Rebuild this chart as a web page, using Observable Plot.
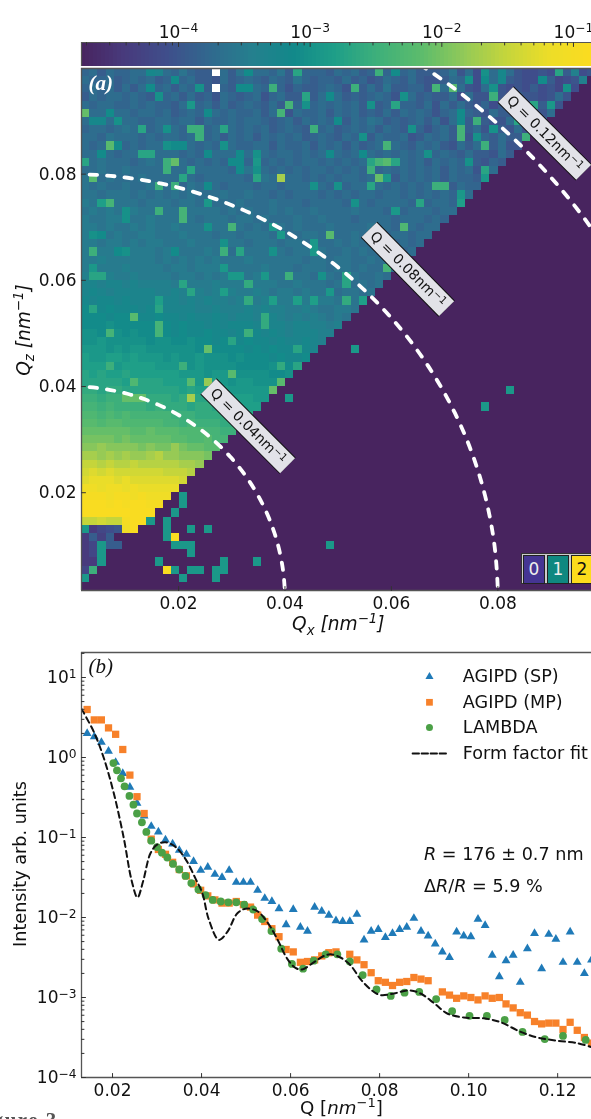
<!DOCTYPE html>
<html><head><meta charset="utf-8">
<script src="https://cdn.jsdelivr.net/npm/d3@7"></script>
<script src="https://cdn.jsdelivr.net/npm/@observablehq/plot@0.6"></script>
<style>
html,body{margin:0;padding:0;background:#fff}
#page{position:relative;width:591px;height:1119px;overflow:hidden;font-family:"DejaVu Sans",sans-serif;color:#111;filter:blur(0.45px)}
#page svg{position:absolute;left:0;background:transparent}
.lab{position:absolute;font-size:17.6px;white-space:nowrap;line-height:1}
.lab sub,.lab sup{font-size:72%;line-height:0}
#states{position:absolute;left:521px;top:553px;width:80px;height:31px;box-sizing:border-box;border:1px solid #333;background:#ccc;display:flex;gap:2px;padding:1px}
#states div{width:20px;height:27px;border:1px solid #222;text-align:center;font-size:17px;line-height:27px}
</style></head><body><div id="page"></div>
<script>
// ---------- panel (a): colour bar ----------
const barTicks = [1e-4, 1e-3, 1e-2, 1e-1];
const barMinor = [2e-5,3e-5,4e-5,5e-5,6e-5,7e-5,8e-5,9e-5,2e-4,3e-4,4e-4,5e-4,6e-4,7e-4,8e-4,9e-4,2e-3,3e-3,4e-3,5e-3,6e-3,7e-3,8e-3,9e-3,2e-2,3e-2,4e-2,5e-2,6e-2,7e-2,8e-2,9e-2];
const colorStops = ["#48245f","#483a7c","#3f4e8b","#31688e","#257f8e","#12898a","#1f9f88","#3fb07a","#5cbc6c","#92c958","#c4d53c","#ecdd28","#fbdc20"];

// ---------- panel (a): detector image, one string per row from the top, each character an intensity level ----------
const levelChars = "0123456789abcdefghijklmnopqrstuvwxyzABC";
const imageRows = [
"9a8a99aa89 a9b9889a8b 9aa9b88999 8a9a89a9b9 a8889b7a6a a8a7667678 667",
"a99a89a9a8 9b9a887a89 a98a98b989 98a8978a98 a8778a9a67 a787666856 766",
"9a9a8a8a99 a8a9988989 8a9a979889 a9798a8b88 9978a8a76a 8767686756 67",
"8a9aa9a989 9a8a897a98 9a79a88a8a 8a8989a978 a8988a6a77 a7687767a7 6",
"a9aa99a9a9 98a99a8a89 a98a8b989a 9a9a8a8979 98a7a8a879 6866768976",
"aaabaa9aa9 a89a98a9a9 9a8a97a99a 8a9a898a8a 9a979a8987 a886787a8",
"abbaaaa99a a9aa8a99a9 aa989a8a9a 9b8a9ba898 9a8a7a98a8 77a786868",
"9aa9abaa9a 9a99a9a8a9 a9a89a98a9 a89a9a8a98 a979a8a8a7 987a7867",
"aa9baaa9a9 aa9a99a8a9 a8a9a9a89a 98a9a8a99a 78a9a8a789 8a8878a",
"a9aaa9a9aa aa9a9a9aa9 9aa8a99a8a 9a8a89a9a9 8a9a87a8a9 8a777a",
"aaaa9aaa9a aa9a9aaaa9 a9a9aa9a9a 8a9aba9a9a 9a89a98a88 7a8a8",
"aabaaa9aba aaa9a9a9ab 9a9a9a9aa9 a9a9a9aa9a 9a8a9a9a87 98a8",
"aabaabaaaa baa9aaaa9a baa9a9a9aa 9a9a9a9a9a 9a9a8a9a78 a98",
"baabaaabaa aaba9aaaaa 9aba9aa9a9 a9aa9a9a8a 9a9a8a9989 9a",
"babaabaaba aa9baaa9aa a9aa9aaa9a 9a9aa9a9a9 a9a9a8a998 a",
"bbabbbabab ababaaabaa baa9a9aaa9 a9a9aa9aa9 a9a9a98a89",
"cbbcbbbabb babbabaaab aaabaaa9aa aa9aa9aaaa 9a9aa9a9a",
"bcbcbbcbbb bbabbbbaba baababaaba aaabaaa9a9 aaa9aa9a",
"cbbccbbbcb bbbbabbbab babaaabaab aaa9aaaa9a aa9a9aa",
"ccbcbbcbcb bcbbbabbbb ababbabaaa baaaabaa9a a9aa9a",
"cccbcbbccb bbcbbbabba bbbabaabba baabaaa9aa 9aa9a",
"ccbccbcbcc bbbcbbbbbb abbbabbaba ababaaaa9a 9aaa",
"cccccbcccb ccbbbcbbab bbbbbabbab aababaaba9 aa9",
"ccdccccccb cbcbcbcbbb cbbbbbbabb abbaababaa 9a",
"cdcccdcccc bccbcccbbb bbcbbbabbb abbabaabaa a",
"ddcdccdccc cbccbcbcbb bcbbbbbbab babbaabab",
"eedeededdd dcdcccdccc bcccbbcbbb abbababa",
"efedeeeeed dedddcdddc cdcbccbcbb babbabb",
"feffefeeee eedededdcd dcdcccbcbc cbbbcb",
"gffgfffeff eeeeddeddd ededdccdcb bccbb",
"gggfggfffg ffefeefede edeedcdcdc bcbc",
"ggghgggggf gfgffefeff feeeedeedd cdc",
"hhghhghggg gfgffgffef ffefedeeed dd",
"hhihhhhhgh hgghggfgff gffefeefed d",
"iiihihiihh hhhhghgggg fgfgffefee",
"jiijjijiii hihhihhhgh gggfgffgf",
"jjjjijjjji iiihihhhhg ggghggfg",
"kjkjjkjjjj jjiiihiihh hhhgghg",
"kkkkkjkkkk jjjjiijihi ihhhgh",
"llkllkkkkk kkjkjjjjii iiihh",
"mmlmmlllll lklkkkjkjj jiii",
"nnmnmmmmlm lllkllkkkj jji",
"oonononnnn nmmmllllkk kk",
"ppoppooooo nnmnmmmllk k",
"qqqqqqppqp ppooonnmml",
"rrrrqrqqqq qppoopnnm",
"sstssssrsr rrrqqppo",
"uutututtut ttsssrq",
"wwvwvvwvvv vvuutt",
"xyxyxxxxxx wwwvv",
"yzzzyzyyyy yyxx",
"AAzAAzAzzz zzy",
"BBBABBABAA Az",
"CCCBCBCCBB B",
"CCCCCCCCCC C",
"wwxwwBCCC",
"i3567AC",
"3848",
"35i88",
"35i",
"33i",
"5m",
"i"
];
// isolated pixels that stand out of the row background: row, column, level ("_" is a dead pixel, drawn white)
const hotCells = [
[0,16,"_"],[2,16,"_"],[0,8,"f"],[0,9,"e"],[1,11,"g"],[0,26,"k"],[0,20,"g"],
[2,8,"g"],[2,14,"h"],[2,19,"g"],[2,20,"g"],[2,23,"m"],[3,9,"h"],[3,27,"k"],[4,27,"h"],[4,13,"i"],[4,25,"n"],
[5,0,"q"],[5,3,"g"],[5,15,"g"],[5,24,"n"],[6,4,"h"],[6,1,"f"],[6,2,"f"],
[7,7,"k"],[7,13,"m"],[7,14,"m"],[7,17,"k"],[7,28,"m"],[7,10,"h"],[8,14,"m"],
[9,3,"p"],[9,4,"g"],[9,10,"h"],[9,11,"g"],[9,12,"g"],[9,17,"h"],[10,7,"k"],[10,8,"k"],[10,2,"g"],[10,15,"g"],
[11,0,"k"],[11,10,"m"],[11,11,"q"],[10,21,"h"],[11,21,"i"],[12,21,"h"],[10,19,"g"],[11,19,"g"],[12,19,"g"],[11,18,"g"],
[13,1,"p"],[12,10,"m"],[12,13,"k"],[13,21,"k"],[13,24,"u"],[13,12,"k"],[14,9,"m"],[14,11,"m"],[14,28,"h"],[14,15,"g"],
[0,36,"m"],[0,38,"g"],[0,49,"h"],[0,51,"f"],[1,51,"f"],[0,58,"k"],[0,60,"d"],
[1,47,"h"],[1,49,"g"],[1,56,"g"],[1,61,"d"],[2,33,"m"],[2,43,"n"],[2,45,"p"],[2,50,"h"],[2,59,"h"],
[3,39,"h"],[3,50,"m"],[3,30,"g"],[4,35,"h"],[4,38,"k"],[4,55,"k"],[4,57,"i"],[5,46,"g"],
[6,48,"m"],[6,46,"g"],[6,31,"g"],[6,53,"k"],[7,46,"n"],[8,46,"n"],[7,50,"h"],[7,40,"h"],
[8,34,"h"],[8,48,"h"],[8,54,"m"],[9,37,"n"],[9,49,"m"],[10,42,"h"],[10,34,"g"],[10,30,"g"],
[11,35,"k"],[11,36,"n"],[11,37,"p"],[11,38,"k"],[11,47,"h"],[12,35,"m"],[12,49,"k"],
[13,36,"q"],[13,37,"i"],[13,49,"i"],[14,35,"k"],[14,43,"m"],[14,44,"m"],[14,31,"h"],[15,46,"i"],
[16,3,"n"],[16,2,"j"],[16,15,"i"],[16,41,"k"],[16,46,"j"],[16,33,"h"],
[17,9,"m"],[17,12,"n"],[18,12,"n"],[17,5,"h"],[18,5,"h"],[17,38,"i"],
[19,18,"n"],[19,23,"i"],[19,15,"h"],[19,39,"o"],[20,30,"p"],[20,1,"h"],[20,2,"g"],[20,24,"i"],
[21,28,"i"],[21,17,"h"],[22,28,"i"],[22,1,"m"],[22,17,"m"],[22,19,"k"],[22,5,"h"],[22,4,"g"],[22,11,"g"],[22,23,"h"],
[24,1,"i"],[24,17,"i"],[24,37,"n"],[25,1,"k"],[25,2,"k"],[25,18,"i"],[25,19,"i"],[25,22,"i"],[25,25,"m"],[25,29,"h"],[25,32,"k"],[26,32,"k"],
[26,12,"k"],[26,20,"l"],[27,13,"k"],[27,17,"j"],[27,30,"i"],[28,9,"j"],[28,20,"l"],[28,23,"j"],[28,26,"j"],[28,28,"j"],[28,32,"l"],[28,34,"j"],
[29,9,"k"],[29,1,"k"],[30,6,"p"],[30,22,"l"],[31,22,"l"],[31,9,"n"],[32,9,"n"],[32,3,"n"],[32,20,"m"],[33,18,"k"],
[34,15,"q"],[34,26,"k"],[36,12,"m"],[36,3,"m"],[36,24,"l"],[36,26,"k"],
[37,18,"p"],[38,13,"p"],[38,15,"t"],[38,24,"p"],[38,6,"o"],[39,23,"q"],[40,5,"q"],[40,6,"q"],[40,7,"q"],[40,13,"u"],
[47,9,"v"],[46,11,"t"],
[40,25,"i"],[34,33,"i"],[41,49,"i"],[39,52,"i"],[58,30,"i"],
[52,12,"i"],[53,12,"i"],[54,11,"i"],[55,8,"i"],[55,10,"i"],[56,10,"i"],[56,13,"i"],[56,15,"i"],[57,10,"i"],[57,11,"C"],
[58,11,"i"],[58,12,"i"],[58,13,"i"],[59,13,"i"],[60,9,"i"],[60,17,"i"],[60,21,"i"],[61,10,"C"],[61,11,"i"],
[61,13,"i"],[61,14,"i"],[61,16,"i"],[61,17,"i"],[62,12,"i"],[62,16,"i"]
];
const imgQx = [0.00177, 0.1000];   // outer edges of the 64 detector columns
const imgQz = [0.00158, 0.0999];   // outer edges of the 64 detector rows
const imgN = 64;

// ---------- panel (a): constant-Q guides ----------
const guideQ = [0.04, 0.08, 0.12];
const guideDeg = [0,4,8,12,16,20,24,28,32,36,40,44,48,52,56,60,64,68,72,76,80,84,88,90];
const guideLabels = ["Q = 0.04nm^−1","Q = 0.08nm^−1","Q = 0.12nm^−1"];
const labelBoxStartQx = [0.02564, 0.05581, 0.08147];
const labelBoxStartQz = [0.04002, 0.06953, 0.09500];
const labelBoxEndQx = [0.04049, 0.07038, 0.09613];
const labelBoxEndQz = [0.02508, 0.05468, 0.08034];
const stateNames = ["0","1","2"];
const stateColors = ["#453593","#0f8880","#fcdc1c"];
const stateText = ["#eee","#eee","#111"];

// ---------- panel (b): scattering curves, log10 of intensity ----------
const qGrid = [.0143,.0159,.0175,.0191,.0207,.0223,.0239,.0255,.0271,.0287,.0303,.0319,.0335,.0350,.0366,.0382,.0398,.0414,.0430,.0446,.0462,.0478,.0494,.0510,.0526,.0542,.0558,.0574,.0590,.0606,.0622,.0638,.0654,.0670,.0686,.0702,.0717,.0733,.0749,.0765,.0781,.0797,.0813,.0829,.0845,.0861,.0877,.0893,.0909,.0925,.0941,.0957,.0973,.0989,.1005,.1021,.1037,.1053,.1069,.1084,.1100,.1116,.1132,.1148,.1164,.1180,.1196,.1212,.1228,.1244,.1260,.1276];
const agipdSP = [.30,.26,.19,.08,-.06,-.20,-.37,-.57,-.73,-.86,-.93,-1.03,-1.08,-1.16,-1.21,-1.30,-1.41,-1.37,-1.46,-1.50,-1.41,-1.56,-1.56,-1.56,-1.66,-1.76,-1.80,-1.89,-2.09,-1.90,-2.12,-2.17,-1.87,-1.92,-1.97,-2.04,-2.05,-2.05,-1.96,-2.28,-2.17,-2.15,-2.25,-2.20,-2.15,-2.12,-2.01,-2.17,-2.23,-2.33,-2.43,-2.50,-2.18,-2.23,-2.24,-2.02,-2.10,-2.47,-2.74,-2.54,-2.47,-2.81,-2.39,-2.20,-2.64,-2.21,-2.27,-2.56,-2.18,-2.56,-2.70,-2.53];
const agipdMP = [.60,.47,.47,.37,.29,.10,-.22,-.49,-.70,-1.02,-1.15,-1.21,-1.31,-1.40,-1.48,-1.58,-1.66,-1.73,-1.78,-1.82,-1.82,-1.80,-1.84,-1.87,-1.97,-2.05,-2.14,-2.24,-2.40,-2.43,-2.56,-2.55,-2.53,-2.48,-2.44,-2.43,null,-2.46,-2.53,-2.59,-2.69,-2.79,-2.81,-2.85,-2.81,-2.80,-2.75,-2.77,-2.79,null,-2.93,-2.97,-3.01,-2.98,-3.00,-3.03,-2.98,-3.01,-3.00,-3.08,-3.13,-3.19,-3.22,-3.30,-3.33,-3.32,-3.32,-3.40,-3.31,-3.41,-3.50,-3.57];
const lambdaQ = [.0202,.0210,.0219,.0227,.0238,.0247,.0255,.0266,.0276,.0287,.0300,.0311,.0323,.0336,.0350,.0364,.0377,.0393,.0409,.0425,.0443,.0460,.0478,.0496,.0516,.0536,.0557,.0579,.0603,.0628,.0652,.0679,.0705,.0733,.0762,.0793,.0825,.0856,.0889,.0927,.0963,.1002,.1041,.1081,.1121,.1171,.1212,.1263];
const lambdaI = [-.07,-.16,-.26,-.36,-.48,-.59,-.70,-.81,-.93,-1.04,-1.12,-1.19,-1.25,-1.33,-1.40,-1.48,-1.57,-1.65,-1.72,-1.78,-1.80,-1.81,-1.81,-1.84,-1.90,-2.02,-2.17,-2.39,-2.58,-2.64,-2.54,-2.46,-2.46,-2.55,-2.72,-2.90,-2.98,-2.94,-2.93,-3.02,-3.17,-3.23,-3.23,-3.28,-3.43,-3.52,-3.48,-3.53];
const fitQ = [.0130,.0158,.0180,.0203,.0225,.0243,.0256,.0269,.0285,.0300,.0319,.0342,.0364,.0387,.0402,.0416,.0439,.0458,.0480,.0499,.0525,.0548,.0570,.0593,.0611,.0626,.0652,.0675,.0690,.0712,.0735,.0757,.0780,.0802,.0832,.0866,.0892,.0922,.0952,.0989,.1034,.1072,.1117,.1154,.1199,.1244,.1276];
const fitI = [.61,.32,.00,-.45,-1.0,-1.54,-1.75,-1.54,-1.20,-1.09,-1.06,-1.12,-1.27,-1.52,-1.70,-2.02,-2.28,-2.18,-1.95,-1.89,-1.92,-2.06,-2.27,-2.52,-2.63,-2.65,-2.56,-2.48,-2.46,-2.50,-2.60,-2.77,-2.90,-2.97,-2.95,-2.91,-2.95,-3.07,-3.20,-3.25,-3.26,-3.31,-3.43,-3.50,-3.54,-3.57,-3.62];
const legendNames = ["AGIPD (SP)","AGIPD (MP)","LAMBDA","Form factor fit"];
const legendY = [1.01,0.69,0.375,0.05];
const bTicksX = [.02,.04,.06,.08,.10,.12];
const bTicksY = [1e1,1e0,1e-1,1e-2,1e-3,1e-4];
const bMinorY = [2e1,2,3,4,5,6,7,8,9,.2,.3,.4,.5,.6,.7,.8,.9,.02,.03,.04,.05,.06,.07,.08,.09,.002,.003,.004,.005,.006,.007,.008,.009,.0002,.0003,.0004,.0005,.0006,.0007,.0008,.0009];
const aTicks = [.02,.04,.06,.08];

const page = document.getElementById("page");
const W = 591, frameCol = "#555", ink = "#111";
const logFmt = d => "10^" + String(Math.round(Math.log10(d))).replace("-", "−");
const baseStyle = {fontFamily:"'DejaVu Sans',sans-serif",fontSize:"17px",background:"transparent",color:ink};
const tickShape = {draw(ctx,l){ctx.moveTo(0,0);ctx.lineTo(0,-l);}};
const tick = (data,o) => Plot.vector(data,{shape:tickShape,anchor:"start",stroke:"#333",strokeWidth:1,clip:false,...o});
const colorScale = {type:"log",domain:[10**-4.737,10**-0.863],range:colorStops};

function place(svg, top){
  svg.style.top = top + "px";
  d3.select(svg).selectAll("text").each(function(){
    const t = this.textContent;
    if (t.includes("^") && this.children.length === 0) {
      const [a,b] = t.split("^");
      const s = d3.select(this); s.text(null);
      s.append("tspan").text(a);
      s.append("tspan").attr("dy","-0.42em").attr("font-size","72%").text(b);
    }
  });
  page.appendChild(svg);
}
function label(html, x, y, css=""){
  const d = document.createElement("div");
  d.className = "lab"; d.innerHTML = html;
  d.style.cssText = `left:${x}px;top:${y}px;${css}`;
  page.appendChild(d); return d;
}

// ---------- colour bar ----------
const barX0 = 10**-4.737, barX1 = 10**-0.863;
const barSlices = d3.range(0,128).map(i => {
  const a = Math.log10(barX0)+(Math.log10(barX1)-Math.log10(barX0))*i/128;
  const b = Math.log10(barX0)+(Math.log10(barX1)-Math.log10(barX0))*(i+1)/128;
  return {x1:10**a,x2:10**b,v:10**((a+b)/2)};
});
place(Plot.plot({
  width:W,height:68,marginLeft:81,marginRight:0,marginTop:42,marginBottom:2,style:baseStyle,
  x:{type:"log",domain:[barX0,barX1]},y:{domain:[0,1],axis:null},color:colorScale,
  marks:[
    Plot.rect(barSlices,{x1:"x1",x2:"x2",y1:0,y2:1,fill:"v",shapeRendering:"crispEdges"}),
    Plot.ruleY([1],{stroke:frameCol,strokeWidth:1.2}),
    Plot.ruleX([barX0],{stroke:frameCol,strokeWidth:1.2}),
    tick(barTicks,{x:d=>d,y:1,rotate:180,length:4}),
    tick(barMinor,{x:d=>d,y:1,rotate:180,length:2.5}),
    Plot.axisX(barTicks,{anchor:"top",tickSize:0,tickPadding:5,tickFormat:logFmt,label:null,fill:ink})
  ]
}),0);

// ---------- detector image ----------
const dx = (imgQx[1]-imgQx[0])/imgN, dz = (imgQz[1]-imgQz[0])/imgN;
const cell = (r,c,ch) => ({
  x1:imgQx[0]+c*dx, x2:imgQx[0]+(c+1)*dx,
  y2:imgQz[1]-r*dz, y1:imgQz[1]-(r+1)*dz,
  v: ch==="_" ? NaN : 10**(-4.7+levelChars.indexOf(ch)*0.1), ch
});
const cells = new Map();
imageRows.forEach((row,r)=>{
  row.replace(/ /g,"").slice(0,63-r).split("").forEach((ch,c)=>cells.set(r*100+c,cell(r,c,ch)));
});
hotCells.forEach(([r,c,ch])=>cells.set(r*100+c,cell(r,c,ch)));
const cellList = [...cells.values()];
const guides = guideQ.flatMap(q=>guideDeg.map(a=>({q,x:q*Math.sin(a*Math.PI/180),y:q*Math.cos(a*Math.PI/180)})));
const boxes = guideLabels.map((t,i)=>[
  {i,x:labelBoxStartQx[i],y:labelBoxStartQz[i]},{i,x:labelBoxEndQx[i],y:labelBoxEndQz[i]}]).flat();
const aDomX = [0.00177,0.0976], aDomY = [0.00158,0.0999];
place(Plot.plot({
  width:W,height:570,marginLeft:81,marginRight:0,marginTop:8,marginBottom:40,style:baseStyle,
  x:{domain:aDomX},y:{domain:aDomY},color:colorScale,
  marks:[
    Plot.frame({fill:"#48245f",stroke:"none"}),
    Plot.rect(cellList.filter(d=>d.ch!=="_"),{x1:"x1",x2:"x2",y1:"y1",y2:"y2",fill:"v",shapeRendering:"crispEdges",clip:"frame"}),
    Plot.rect(cellList.filter(d=>d.ch==="_"),{x1:"x1",x2:"x2",y1:"y1",y2:"y2",fill:"#fff",shapeRendering:"crispEdges"}),
    Plot.line(guides,{x:"x",y:"y",z:"q",stroke:"#fff",strokeWidth:3.8,strokeDasharray:"7.5 10",curve:"natural",clip:"frame",strokeLinecap:"round"}),
    Plot.line(boxes,{x:"x",y:"y",z:"i",stroke:"#111",strokeWidth:23,strokeLinecap:"butt"}),
    Plot.line(boxes,{x:"x",y:"y",z:"i",stroke:"#e2e2e8",strokeWidth:21,strokeLinecap:"butt"}),
    Plot.text(guideLabels,{x:(d,i)=>(labelBoxStartQx[i]+labelBoxEndQx[i])/2,y:(d,i)=>(labelBoxStartQz[i]+labelBoxEndQz[i])/2,text:d=>d,rotate:45,fontSize:14,fill:"#111"}),
    Plot.ruleX([aDomX[0]],{stroke:frameCol,strokeWidth:1.3}),
    Plot.ruleY(aDomY,{stroke:frameCol,strokeWidth:1.3}),
    tick(aTicks,{x:d=>d,y:aDomY[0],rotate:0,length:4}),
    tick(aTicks,{x:aDomX[0],y:d=>d,rotate:90,length:4}),
    Plot.axisX(aTicks,{tickSize:0,tickPadding:6,tickFormat:d3.format(".2f"),label:null,fill:ink}),
    Plot.axisY(aTicks,{tickSize:0,tickPadding:5,tickFormat:d3.format(".2f"),label:null,fill:ink}),
    Plot.text(["(a)"],{frameAnchor:"top-left",dx:7,dy:7,fontFamily:"'Liberation Serif',serif",fontStyle:"italic",fontWeight:"bold",fontSize:21,fill:"#fff"})
  ]
}),60);

const states = document.createElement("div"); states.id = "states";
stateNames.forEach((n,i)=>{const d=document.createElement("div");d.textContent=n;d.style.background=stateColors[i];d.style.color=stateText[i];states.appendChild(d);});
page.appendChild(states);
label("<i>Q<sub>x</sub> [nm<sup>−1</sup>]</i>",292,615,"font-size:18.6px;");
label("<i>Q<sub>z</sub> [nm<sup>−1</sup>]</i>",24,330,"transform:translate(-50%,-50%) rotate(-90deg);font-size:18.6px;");

// ---------- scattering curves ----------
const sp = qGrid.map((q,i)=>({q,v:10**agipdSP[i]}));
const mp = qGrid.map((q,i)=>({q,v:agipdMP[i]===null?null:10**agipdMP[i]})).filter(d=>d.v!==null);
const la = lambdaQ.map((q,i)=>({q,v:10**lambdaI[i]}));
const fit = fitQ.map((q,i)=>({q,v:10**fitI[i]}));
const bDomX = [.01303,.1276], bDomY = [1e-4,10**1.3125];
const legQ = .0912, legTextQ = .0987, legDash = [.0874,.0953];
place(Plot.plot({
  width:W,height:479,marginLeft:81,marginRight:0,marginTop:12,marginBottom:42,style:baseStyle,
  x:{domain:bDomX},y:{type:"log",domain:bDomY},
  marks:[
    Plot.dot(sp,{x:"q",y:"v",symbol:"triangle",r:3.3,fill:"#1f7ab8",clip:"frame"}),
    Plot.dot(mp,{x:"q",y:"v",symbol:"square",r:4.1,fill:"#f7812a",clip:"frame"}),
    Plot.dot(la,{x:"q",y:"v",r:3.9,fill:"#4ba046",clip:"frame"}),
    Plot.line(fit,{x:"q",y:"v",stroke:"#111",strokeWidth:2,strokeDasharray:"6 4",curve:"catmull-rom",clip:"frame"}),
    Plot.ruleX([bDomX[0]],{stroke:frameCol,strokeWidth:1.3}),
    Plot.ruleY(bDomY,{stroke:frameCol,strokeWidth:1.3}),
    tick(bTicksX,{x:d=>d,y:bDomY[0],rotate:0,length:4}),
    tick(bTicksY,{x:bDomX[0],y:d=>d,rotate:90,length:4}),
    tick(bMinorY,{x:bDomX[0],y:d=>d,rotate:90,length:2.5}),
    Plot.axisX(bTicksX,{tickSize:0,tickPadding:6,tickFormat:d3.format(".2f"),label:null,fill:ink}),
    Plot.axisY(bTicksY,{tickSize:0,tickPadding:5,tickFormat:logFmt,label:null,fill:ink}),
    Plot.text(["(b)"],{frameAnchor:"top-left",dx:7,dy:6,fontFamily:"'Liberation Serif',serif",fontStyle:"italic",fontSize:21,fill:ink}),
    // legend
    Plot.dot([0],{x:legQ,y:10**legendY[0],symbol:"triangle",r:3,fill:"#1f7ab8"}),
    Plot.dot([0],{x:legQ,y:10**legendY[1],symbol:"square",r:3.8,fill:"#f7812a"}),
    Plot.dot([0],{x:legQ,y:10**legendY[2],r:3.5,fill:"#4ba046"}),
    Plot.line(legDash.map(q=>({q})),{x:"q",y:()=>10**legendY[3],stroke:"#111",strokeWidth:1.8,strokeDasharray:"6.5 2.5"}),
    Plot.text(legendNames,{x:legTextQ,y:(d,i)=>10**legendY[i],text:d=>d,textAnchor:"start",fill:ink,fontSize:17.6})
  ]
}),640);

label("Q [<i>nm</i><sup>−1</sup>]",300,1099,"font-size:18.2px;");
label("Intensity arb. units",21,864,"transform:translate(-50%,-50%) rotate(-90deg);");
label("<i>R</i> = 176 ± 0.7 nm",424,846);
label("Δ<i>R</i>/<i>R</i> = 5.9 %",424,878);
label("Figure 3",-29,1110,"font-family:'Liberation Serif',serif;font-weight:bold;color:#555;font-size:21px;letter-spacing:1.5px;");
</script></body></html>
